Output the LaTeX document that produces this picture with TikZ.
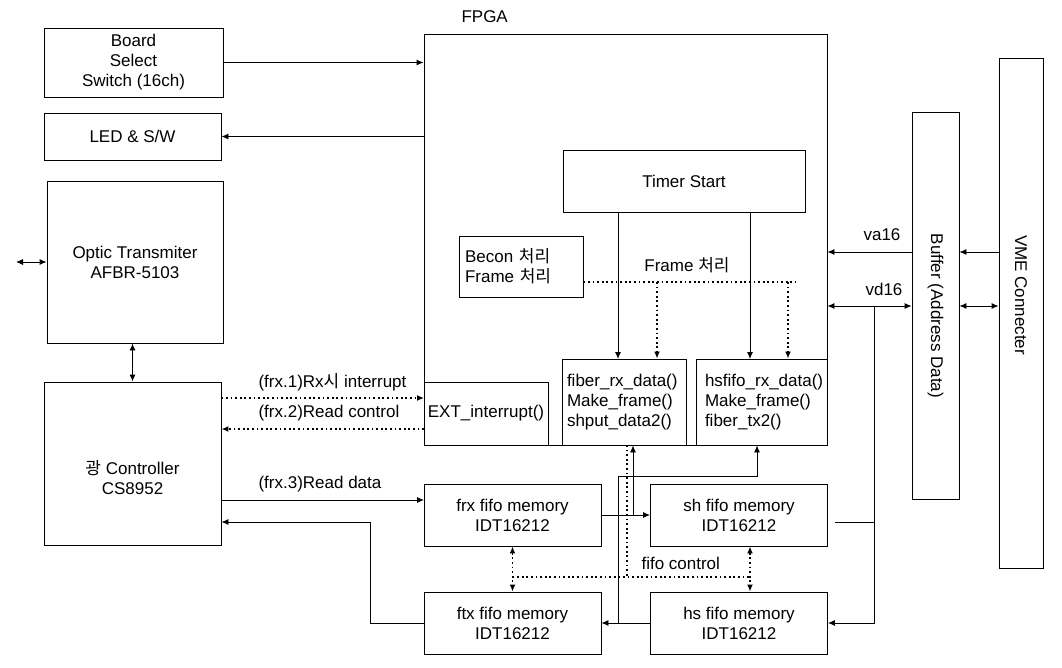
\documentclass[tikz,border=0pt]{standalone}
\usepackage{fontspec}
\setmainfont{Liberation Sans}
\newfontfamily\kr{Noto Sans CJK KR}
\usetikzlibrary{arrows.meta}

\begin{document}
\begin{tikzpicture}[
    x=1pt, y=-1pt,
    >={Latex[length=7pt,width=6pt]},
    every node/.style={font=\fontsize{17}{20}\selectfont, align=center},
    blk/.style={draw, line width=0.9pt, inner sep=0pt},
    fifo/.style={blk, minimum width=177pt, minimum height=62pt},
    code/.style={blk, align=left, inner xsep=#1, inner ysep=0pt},
    link/.style={line width=0.9pt},
    dotline/.style={line width=1.8pt, dash pattern=on 1.8pt off 2.8pt},
]
    \useasboundingbox (0,0) rectangle (1062,668);

    % left column
    \node[blk, minimum width=179pt, minimum height=69pt] (board) at (133.5,62.5) {Board\\Select\\Switch (16ch)};
    \node[blk, minimum width=177pt, minimum height=47pt] (led) at (132.5,136.5) {LED \& S/W};
    \node[blk, minimum width=176pt, minimum height=162pt] (optic) at (135,262) {Optic Transmiter\\AFBR-5103};
    \node[blk, minimum width=177pt, minimum height=163pt] (ctrl) at (132.5,463.5) {};
    \node (ctrltxt) at (132.5,478) {{\kr 광} Controller\\CS8952};

    % FPGA
    \node[blk, minimum width=403pt, minimum height=411pt] (fpga) at (625.5,239.5) {};
    \node[anchor=west] (fpgatxt) at (458,17) {FPGA};
    \node[blk, minimum width=242pt, minimum height=62pt] (timer) at (684,181) {Timer Start};
    \node[code=6pt, text width=112pt, minimum height=61pt] (becon) at (521,266.5) {Becon {\kr 처리}\\Frame {\kr 처리}};
    \node[blk, minimum width=124pt, minimum height=63pt] (ext) at (486,413.5) {EXT\_interrupt()};
    \node[code=5pt, text width=114pt, minimum height=86pt] (fib) at (624,402) {fiber\_rx\_data()\\Make\_frame()\\shput\_data2()};
    \node[code=9pt, text width=113pt, minimum height=86pt] (hsf) at (761.5,402) {hsfifo\_rx\_data()\\Make\_frame()\\fiber\_tx2()};
    \node (lframe) at (687,265) {Frame {\kr 처리}};

    % memories
    \foreach \nm/\px/\py in {frx/512.5/515, ftx/512.5/623, sh/739/515, hs/739/623}
      \node[fifo] (\nm) at (\px,\py) {\nm{} fifo memory\\IDT16212};

    % VME side
    \node[blk, minimum width=47pt, minimum height=387pt] (buf) at (935.5,305.5) {};
    \node[rotate=-90] (buftxt) at (935.5,316) {Buffer (Address Data)};
    \node[blk, minimum width=44pt, minimum height=510pt] (vme) at (1021,313) {};
    \node[rotate=-90] (vmetxt) at (1021,295) {VME Connecter};

    \node[anchor=west] (lirq) at (255,382) {(frx.1)Rx{\kr 시} interrupt};
    \node[anchor=west] (lrdc) at (255,413) {(frx.2)Read control};
    \node[anchor=west] (lrdd) at (255,484) {(frx.3)Read data};
    \node (lva) at (882,235) {va16};
    \node (lvd) at (884,289) {vd16};
    \node[anchor=west] (lfifo) at (638,563) {fifo control};

    \coordinate (fib0) at (16,262);
    \coordinate (irq) at (424,398);
    \coordinate (rdc) at (424,429);
    \coordinate (rdd) at (424,500);
    \coordinate (rdback) at (370,522);
    \coordinate (t1) at (618,359);
    \coordinate (t2) at (750,359);
    \coordinate (f1) at (657,282);
    \coordinate (f2) at (788,282);
    \coordinate (tap) at (633,515);
    \coordinate (tap2) at (618,623);
    \coordinate (bend) at (757,476);
    \coordinate (fc) at (750,577);
    \coordinate (fcv) at (627,445);
    \coordinate (va) at (912,252);
    \coordinate (vd) at (874,306);
    \coordinate (shs) at (835,522);

    \draw[link,->] (board.east) -- (board.east -| fpga.west);
    \draw[link,->] (led.east -| fpga.west) -- (led.east);
    \draw[link,<->] (fib0) -- (optic.west);
    \draw[link,<->] (ctrl.north) -- (ctrl.north |- optic.south);

    \draw[dotline,->] (irq -| ctrl.east) -- (irq);
    \draw[dotline,->] (rdc) -- (rdc -| ctrl.east);
    \draw[link,->] (rdd -| ctrl.east) -- (rdd);
    \draw[link,->] (ftx.west) -| (rdback) -- (rdback -| ctrl.east);

    \draw[link,->] (t1 |- timer.south) -- (t1);
    \draw[link,->] (t2 |- timer.south) -- (t2);
    \draw[dotline] (f1 -| becon.east) -- ([xshift=8pt]f2);
    \draw[dotline,->] (f1) -- (f1 |- fib.north);
    \draw[dotline,->] (f2) -- (f2 |- hsf.north);

    \draw[link,->] (frx.east) -- (sh.west);
    \draw[link,->] (tap) -- (tap |- fib.south);
    \draw[link,->] (hs.west) -- (ftx.east);
    \draw[link,->] (tap2) |- (bend) -- (bend |- hsf.south);
    \draw[dotline,<->] (frx.south) -- (ftx.north);
    \draw[dotline,<->] (fc |- sh.south) -- (fc |- hs.north);
    \draw[dotline] (frx.south |- fc) -- (fc);
    \draw[dotline] (fcv) -- (fcv |- fc);

    \draw[link,->] (va) -- (va -| fpga.east);
    \draw[link,<->] (vd -| fpga.east) -- (vd -| buf.west);
    \draw[link,->] (va -| vme.west) -- (va -| buf.east);
    \draw[link,<->] (vd -| buf.east) -- (vd -| vme.west);
    \draw[link,->] (vd) |- (hs.east);
    \draw[link] (shs) -- (shs -| vd);
\end{tikzpicture}
\end{document}
